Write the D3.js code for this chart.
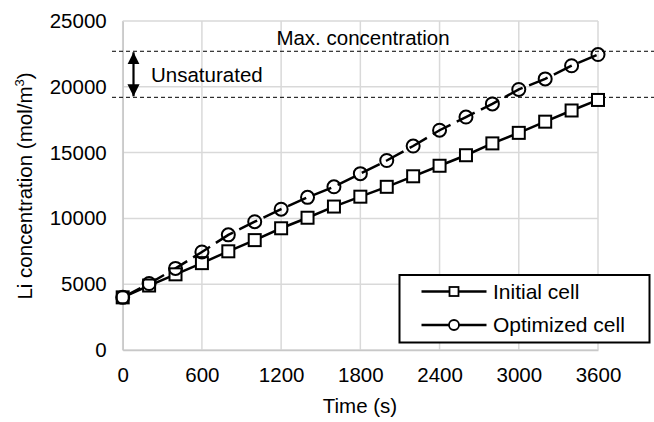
<!DOCTYPE html>
<html><head><meta charset="utf-8">
<script src="https://cdn.jsdelivr.net/npm/d3@7"></script>
<style>body{margin:0;background:#fff}svg{display:block;font-family:"Liberation Sans",Arial,sans-serif}</style>
</head><body>
<svg id="c" width="654" height="422"></svg>
<script>
const times = [0,200,400,600,800,1000,1200,1400,1600,1800,2000,2200,2400,2600,2800,3000,3200,3400,3600];
const initialCell = [4000,4900,5750,6600,7500,8350,9250,10050,10900,11650,12400,13200,14000,14800,15700,16500,17350,18200,19000];
const optimizedCell = [4000,5050,6200,7450,8750,9750,10700,11600,12400,13400,14400,15500,16700,17700,18700,19800,20600,21600,22450];
const xTicks = [0,600,1200,1800,2400,3000,3600];
const yTicks = [0,5000,10000,15000,20000,25000];
const maxLevel = 22700;
const unsatLevel = 19200;
const seriesNames = ["Initial cell","Optimized cell"];

const svg = d3.select("#c");
const x = d3.scaleLinear().domain([0,3600]).range([122.7,598]);
const y = d3.scaleLinear().domain([0,25000]).range([350,21]);
const fs = "20.5px";

// grid
svg.append("g").selectAll("line").data(yTicks).join("line")
  .attr("x1",x(0)).attr("x2",x(3600)).attr("y1",d=>y(d)).attr("y2",d=>y(d))
  .attr("stroke","#d9d9d9").attr("stroke-width",1.5);
svg.append("g").selectAll("line").data(xTicks).join("line")
  .attr("y1",y(0)).attr("y2",y(25000)).attr("x1",d=>x(d)).attr("x2",d=>x(d))
  .attr("stroke","#d9d9d9").attr("stroke-width",1.5);

// axes
const yAxis = svg.append("g").attr("transform",`translate(${x(0)},0)`)
  .call(d3.axisLeft(y).tickValues(yTicks).tickSize(0).tickPadding(16).tickFormat(d3.format("d")));
const xAxis = svg.append("g").attr("transform",`translate(0,${y(0)})`)
  .call(d3.axisBottom(x).tickValues(xTicks).tickSize(0).tickPadding(17).tickFormat(d3.format("d")));
[xAxis,yAxis].forEach(a=>{
  a.select(".domain").attr("stroke","#c8c8c8").attr("stroke-width",1.5);
  a.selectAll("text").attr("font-size",fs).attr("fill","#000").attr("font-family","Liberation Sans, Arial, sans-serif");
});

// axis titles
svg.append("text").attr("x",360).attr("y",413).attr("text-anchor","middle").attr("font-size",fs).text("Time (s)");
const yl = svg.append("text").attr("transform","translate(32,186) rotate(-90)").attr("text-anchor","middle").attr("font-size",fs);
yl.append("tspan").text("Li concentration (mol/m");
yl.append("tspan").attr("font-size","13px").attr("dy","-8").text("3");
yl.append("tspan").attr("dy","8").text(")");

// reference dashed lines
svg.append("g").selectAll("line").data([maxLevel,unsatLevel]).join("line")
  .attr("x1",112).attr("x2",654).attr("y1",d=>y(d)).attr("y2",d=>y(d))
  .attr("stroke","#000").attr("stroke-width",1).attr("stroke-dasharray","4,3");

// arrow
const defs = svg.append("defs");
defs.append("marker").attr("id","ah").attr("viewBox","0 0 10 10").attr("refX",10).attr("refY",5)
  .attr("markerWidth",5.5).attr("markerHeight",5.5).attr("orient","auto-start-reverse")
  .attr("markerUnits","strokeWidth")
  .append("path").attr("d","M0,0 L10,5 L0,10 Z").attr("fill","#000");
svg.append("line").attr("x1",133.5).attr("x2",133.5).attr("y1",y(maxLevel)+1).attr("y2",y(unsatLevel)-1)
  .attr("stroke","#000").attr("stroke-width",2.2).attr("marker-start","url(#ah)").attr("marker-end","url(#ah)");
svg.append("text").attr("x",151).attr("y",82).attr("font-size",fs).text("Unsaturated");
svg.append("text").attr("x",363).attr("y",45).attr("text-anchor","middle").attr("font-size",fs).text("Max. concentration");

// series
const line = d3.line().x((d,i)=>x(times[i])).y(d=>y(d));
svg.append("path").datum(initialCell).attr("d",line).attr("fill","none").attr("stroke","#000").attr("stroke-width",2.5);
svg.append("path").datum(optimizedCell).attr("d",line).attr("fill","none").attr("stroke","#000").attr("stroke-width",2.5)
  .attr("stroke-dasharray","20,7");
svg.append("g").selectAll("rect").data(initialCell).join("rect")
  .attr("x",(d,i)=>x(times[i])-6).attr("y",d=>y(d)-6).attr("width",12).attr("height",12)
  .attr("fill","#fff").attr("stroke","#000").attr("stroke-width",2);
svg.append("g").selectAll("circle").data(optimizedCell).join("circle")
  .attr("cx",(d,i)=>x(times[i])).attr("cy",d=>y(d)).attr("r",6.5)
  .attr("fill","none").attr("stroke","#000").attr("stroke-width",2);

// legend
const lg = svg.append("g");
lg.append("rect").attr("x",399.5).attr("y",275).attr("width",250).attr("height",67.5)
  .attr("fill","#fff").attr("stroke","#000").attr("stroke-width",2);
const rows = [291.5,325];
seriesNames.forEach((n,i)=>{
  lg.append("line").attr("x1",421.5).attr("x2",486.5).attr("y1",rows[i]).attr("y2",rows[i]).attr("stroke","#000").attr("stroke-width",2.5);
  if(i===0) lg.append("rect").attr("x",449.5).attr("y",rows[i]-4.5).attr("width",9).attr("height",9).attr("fill","#fff").attr("stroke","#000").attr("stroke-width",1.8);
  else lg.append("circle").attr("cx",454).attr("cy",rows[i]).attr("r",5).attr("fill","#fff").attr("stroke","#000").attr("stroke-width",1.8);
  lg.append("text").attr("x",493).attr("y",rows[i]).attr("dy","0.35em").attr("font-size","21px").text(n);
});
</script>
</body></html>
